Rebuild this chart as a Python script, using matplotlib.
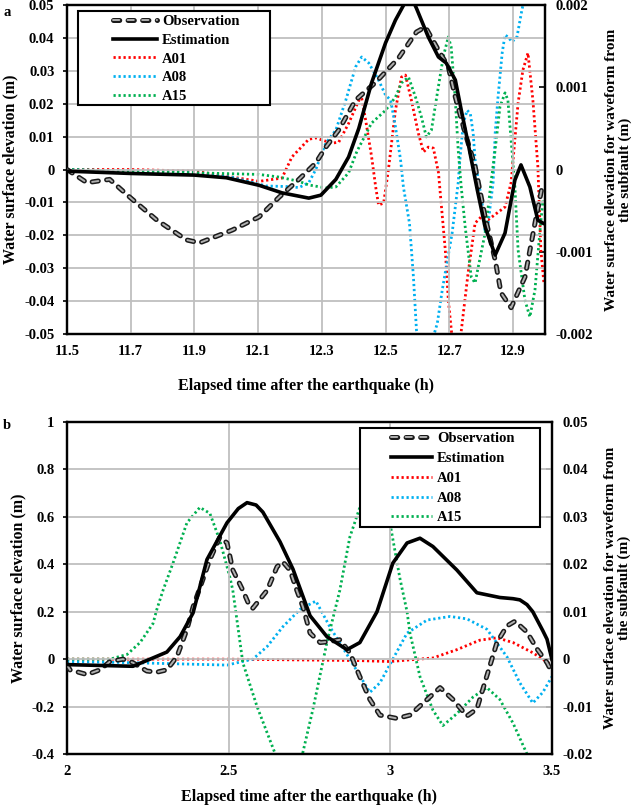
import matplotlib
matplotlib.use("Agg")
import matplotlib.pyplot as plt
import matplotlib.patheffects as pe
from matplotlib.legend_handler import HandlerLine2D
from matplotlib.patches import Rectangle
from matplotlib.ticker import FixedLocator, FuncFormatter

plt.rcParams['font.family'] = ['Liberation Serif', 'DejaVu Serif']
plt.rcParams['font.weight'] = 'bold'
plt.rcParams['lines.scale_dashes'] = False

# ---------------- data: panel a ----------------
obs_a_t = [11.500, 11.5625, 11.634, 11.697, 11.781, 11.875, 11.916, 12.019, 12.103, 12.166,
           12.228, 12.281, 12.3125, 12.353, 12.406, 12.469, 12.541, 12.597, 12.625, 12.666,
           12.697, 12.719, 12.75, 12.781, 12.8125, 12.844, 12.8625, 12.894, 12.9375, 12.969, 12.994]
obs_a = [0.0, -0.004, -0.003, -0.0084, -0.0153, -0.0214, -0.0223, -0.0184, -0.0144, -0.0084,
         -0.003, 0.002, 0.0068, 0.012, 0.0211, 0.0265, 0.0339, 0.0418, 0.0433, 0.0363,
         0.0312, 0.022, 0.011, 0.001, -0.0144, -0.0275, -0.0375, -0.042, -0.0327, -0.0163, -0.004]

est_a_t = [11.5, 11.7, 11.9, 12.0, 12.103, 12.175, 12.259, 12.297, 12.344, 12.384, 12.416,
           12.456, 12.5, 12.531, 12.5625, 12.5875, 12.597, 12.634, 12.666, 12.69, 12.719,
           12.7375, 12.759, 12.7875, 12.8125, 12.844, 12.875, 12.906, 12.925, 12.953, 12.978, 12.994]
est_a = [-0.0005, -0.0012, -0.0017, -0.0025, -0.0048, -0.0071, -0.0087, -0.0078, -0.003, 0.0038, 0.0125,
         0.0263, 0.0385, 0.0454, 0.051, 0.051, 0.049, 0.0403, 0.0342, 0.0324, 0.0272,
         0.0181, 0.008, -0.006, -0.0175, -0.026, -0.0193, -0.0032, 0.0014, -0.0053, -0.0154, -0.0163]

a01_a_t = [11.5, 11.7, 11.9, 12.103, 12.175, 12.206, 12.259, 12.281, 12.331, 12.353, 12.384,
           12.416, 12.425, 12.4375, 12.456, 12.469, 12.478, 12.494, 12.509, 12.531, 12.55,
           12.5625, 12.581, 12.603, 12.619, 12.634, 12.65, 12.666, 12.6875, 12.697, 12.716,
           12.734, 12.759, 12.781, 12.8, 12.822, 12.853, 12.875, 12.894, 12.916, 12.931,
           12.947, 12.9625, 12.978, 12.9875, 12.997]
a01_a = [0.0, 0.0, -0.00002, -0.000144, -0.000104, 0.000152, 0.000368, 0.000384, 0.00032, 0.000332, 0.00056,
         0.00084, 0.000868, 0.0006, 0.00016, -0.000212, -0.000432, -0.000408, 0.0, 0.00072, 0.001124,
         0.001148, 0.000844, 0.00044, 0.000212, 0.000272, 0.00026, -0.000036, -0.00098, -0.001588, -0.00232,
         -0.00208, -0.00126, -0.000652, -0.000576, -0.000612, -0.00052, -0.000456, -0.00016, 0.000808, 0.001208,
         0.001416, 0.00084, 0.00004, -0.00098, -0.00138]

a08_a_t = [11.5, 11.9, 12.019, 12.125, 12.197, 12.228, 12.259, 12.281, 12.3, 12.3125, 12.344,
           12.375, 12.406, 12.425, 12.447, 12.478, 12.5, 12.516, 12.531, 12.547, 12.556,
           12.575, 12.5875, 12.597, 12.62, 12.6375, 12.6625, 12.678, 12.709, 12.728, 12.734,
           12.744, 12.756, 12.766, 12.775, 12.781, 12.803, 12.8125, 12.822, 12.8375, 12.844,
           12.853, 12.866, 12.875, 12.884, 12.897, 12.9125, 12.928, 12.95]
a08_a = [0.0, -0.00004, -0.000096, -0.0002, -0.000208, -0.00022, -0.00016, 0.0, 0.0002, 0.00032, 0.00048,
         0.00084, 0.001248, 0.001368, 0.001296, 0.001088, 0.000904, 0.000844, 0.00052, 0.00012, -0.000212,
         -0.000652, -0.001308, -0.001952, -0.0024, -0.0022, -0.001868, -0.001464, -0.000772, -0.00016, 0.000152,
         0.000564, 0.00072, 0.00068, 0.00044, 0.00012, -0.000408, -0.000772, -0.000652, -0.00016, 0.00044,
         0.00088, 0.001416, 0.001636, 0.001612, 0.001552, 0.001612, 0.00194, 0.00232]

a15_a_t = [11.5, 11.9, 12.103, 12.166, 12.228, 12.259, 12.3125, 12.344, 12.384, 12.41, 12.456,
           12.5, 12.531, 12.55, 12.572, 12.594, 12.6125, 12.628, 12.644, 12.659, 12.681,
           12.697, 12.706, 12.719, 12.728, 12.7375, 12.75, 12.769, 12.781, 12.791, 12.8125,
           12.831, 12.844, 12.859, 12.875, 12.884, 12.894, 12.906, 12.916, 12.9375, 12.953,
           12.969, 12.984, 12.994]
a15_a = [0.0, -0.00004, -0.00006, -0.000092, -0.000144, -0.000188, -0.000224, -0.000212, -0.00004, 0.00022, 0.000564,
         0.00072, 0.00088, 0.001052, 0.001124, 0.00088, 0.00064, 0.000396, 0.00048, 0.000844, 0.001368,
         0.001612, 0.001488, 0.000844, 0.000236, -0.000212, -0.0007, -0.001308, -0.00138, -0.001184, -0.000772,
         -0.00016, 0.00024, 0.00076, 0.000932, 0.000844, 0.00036, -0.000212, -0.00098, -0.001588, -0.001792,
         -0.001464, -0.000772, -0.000372]

# ---------------- data: panel b ----------------
obs_b_t = [2.0, 2.009, 2.062, 2.102, 2.133, 2.173, 2.204, 2.247, 2.278, 2.309, 2.340, 2.371, 2.390,
           2.411, 2.442, 2.473, 2.495, 2.513, 2.544, 2.566, 2.575, 2.619, 2.650, 2.668, 2.690,
           2.711, 2.730, 2.752, 2.783, 2.813, 2.844, 2.875, 2.906, 2.937, 2.968, 3.021, 3.061,
           3.114, 3.154, 3.194, 3.237, 3.268, 3.299, 3.330, 3.361, 3.386, 3.423, 3.454, 3.485, 3.5]
obs_b = [-0.023, -0.045, -0.065, -0.045, -0.01, 0.0, -0.015, -0.05, -0.055, -0.045, 0.01, 0.125, 0.22,
         0.30, 0.42, 0.515, 0.49, 0.376, 0.29, 0.22, 0.215, 0.29, 0.39, 0.41, 0.375,
         0.29, 0.22, 0.11, 0.07, 0.074, 0.082, 0.027, -0.074, -0.17, -0.236, -0.25, -0.236,
         -0.17, -0.12, -0.17, -0.24, -0.21, -0.07, 0.07, 0.14, 0.16, 0.114, 0.043, -0.015, -0.055]

est_b_t = [2.0, 2.204, 2.257, 2.309, 2.350, 2.390, 2.433, 2.495, 2.53, 2.557, 2.585, 2.606, 2.659, 2.699,
           2.752, 2.804, 2.866, 2.906, 2.959, 3.008, 3.052, 3.092, 3.132, 3.206, 3.268, 3.339,
           3.380, 3.401, 3.423, 3.441, 3.472, 3.485, 3.5]
est_b = [-0.023, -0.03, 0.0, 0.03, 0.095, 0.195, 0.42, 0.575, 0.635, 0.66, 0.65, 0.62, 0.495, 0.38,
         0.183, 0.095, 0.04, 0.07, 0.2, 0.405, 0.49, 0.51, 0.475, 0.376, 0.28, 0.26,
         0.255, 0.25, 0.23, 0.2, 0.12, 0.084, 0.0]

a01_b_t = [2.0, 2.5, 2.9, 3.0, 3.132, 3.206, 3.277, 3.330, 3.380, 3.441, 3.494, 3.5]
a01_b = [0.0, 0.0, -0.0003, -0.0005, 0.00025, 0.002, 0.004, 0.0045, 0.0035, 0.00135, -0.001, -0.0012]

a08_b_t = [2.0, 2.204, 2.495, 2.575, 2.619, 2.668, 2.721, 2.77, 2.813, 2.875, 2.937, 2.968,
           3.008, 3.052, 3.114, 3.185, 3.237, 3.299, 3.361, 3.401, 3.441, 3.472, 3.5]
a08_b = [-0.0005, -0.00075, -0.00125, 0.0, 0.00265, 0.00685, 0.0105, 0.01225, 0.00685, 0.0, -0.007, -0.005,
         0.0, 0.0055, 0.00825, 0.009, 0.0085, 0.0063, 0.0005, -0.005, -0.00925, -0.007, -0.0037]

a15_b_t = [2.0, 2.133, 2.186, 2.226, 2.266, 2.278, 2.297, 2.328, 2.371, 2.411, 2.442, 2.473, 2.504,
           2.513, 2.544, 2.588, 2.619, 2.65, 2.68, 2.72, 2.761, 2.804, 2.844, 2.875, 2.906, 2.95,
           2.999, 3.030, 3.052, 3.061, 3.092, 3.132, 3.163, 3.206, 3.256, 3.299, 3.339, 3.380,
           3.423, 3.47, 3.5]
a15_b = [0.0, 0.0, 0.001, 0.0035, 0.0075, 0.0105, 0.0145, 0.02025, 0.02875, 0.032, 0.03075, 0.025, 0.01725,
         0.0145, -0.00075, -0.01, -0.0155, -0.021, -0.024, -0.0225, -0.0105, 0.0035, 0.0145, 0.02575, 0.032, 0.036,
         0.02875, 0.017, 0.01, 0.0055, -0.0037, -0.01075, -0.014, -0.0115, -0.008, -0.006, -0.0085, -0.0135,
         -0.02, -0.026, -0.03]

labels = ["Observation", "Estimation", "A01", "A08", "A15"]
xticks_a = [11.5, 11.7, 11.9, 12.1, 12.3, 12.5, 12.7, 12.9]
yticks_a = [-0.05, -0.04, -0.03, -0.02, -0.01, 0, 0.01, 0.02, 0.03, 0.04, 0.05]
y2ticks_a = [-0.002, -0.001, 0, 0.001, 0.002]
xticks_b = [2, 2.5, 3, 3.5]
yticks_b = [-0.4, -0.2, 0, 0.2, 0.4, 0.6, 0.8, 1]
y2ticks_b = [-0.02, -0.01, 0, 0.01, 0.02, 0.03, 0.04, 0.05]

C_RED = '#ff0000'
C_BLUE = '#00b0f0'
C_GREEN = '#00b050'
GRID = '#bfbfbf'
FS = 10.5
W, H = 638.0, 806.0


def fmt(v, pos=None):
    r = round(v, 6)
    if abs(r) < 1e-12:
        return "0"
    return ("%.6f" % r).rstrip('0').rstrip('.')


class PadHandler(HandlerLine2D):
    def __init__(self, frac, **kw):
        super().__init__(**kw)
        self.frac = frac

    def create_artists(self, legend, orig_handle, xdescent, ydescent, width, height, fontsize, trans):
        pad = width * self.frac
        return super().create_artists(legend, orig_handle, xdescent - pad, ydescent,
                                      width - pad, height, fontsize, trans)


def obs_line(ax, t, v):
    ln, = ax.plot(t, v, color='#b0b0b0', lw=1.4, dashes=(4.5, 6.0), dash_capstyle='round',
                  solid_capstyle='round', zorder=3,
                  path_effects=[pe.Stroke(linewidth=3.6, foreground='#1a1a1a'), pe.Normal()])
    return ln


def panel(ax, xlim, ylim, y2lim, xticks, yticks, y2ticks, data, leg_anchor_px, box_px,
          handle_frac, labelspacing, xlabelpad):
    (ot, ov, et, ev, a1t, a1, a8t, a8, a15t, a15) = data
    ax2 = ax.twinx()
    dot = dict(lw=2.0, dashes=(1.6, 2.0), zorder=2)
    l3, = ax2.plot(a1t, a1, color=C_RED, **dot)
    l4, = ax2.plot(a8t, a8, color=C_BLUE, **dot)
    l5, = ax2.plot(a15t, a15, color=C_GREEN, **dot)
    l1 = obs_line(ax, ot, ov)
    l2, = ax.plot(et, ev, color='black', lw=2.6, zorder=4, solid_joinstyle='round')

    ax.set_zorder(ax2.get_zorder() + 1)
    ax.patch.set_visible(False)

    ax.set_xlim(*xlim)
    ax.set_ylim(*ylim)
    ax2.set_ylim(*y2lim)
    ax.xaxis.set_major_locator(FixedLocator(xticks))
    ax.yaxis.set_major_locator(FixedLocator(yticks))
    ax2.yaxis.set_major_locator(FixedLocator(y2ticks))
    ax.xaxis.set_major_formatter(FuncFormatter(fmt))
    ax.yaxis.set_major_formatter(FuncFormatter(fmt))
    ax2.yaxis.set_major_formatter(FuncFormatter(fmt))
    ax.grid(True, color=GRID, lw=1.3, zorder=0)
    ax.set_axisbelow(True)
    ax.tick_params(axis='x', length=0, pad=8, labelsize=FS)
    ax.tick_params(axis='y', length=3, width=1.2, direction='out', pad=6, labelsize=FS)
    ax2.tick_params(axis='y', length=4, width=1.2, direction='in', pad=8, labelsize=FS)
    for a in (ax, ax2):
        for s in a.spines.values():
            s.set_linewidth(1.6)
            s.set_color('black')
    ax.set_xlabel("Elapsed time after the earthquake (h)", fontsize=11.5, fontweight='bold',
                  labelpad=xlabelpad)
    ax.set_ylabel("Water surface elevation (m)", fontsize=11.5, fontweight='bold', labelpad=4)
    ax2.set_ylabel("Water surface elevation for waveform from\nthe subfault (m)", fontsize=11,
                   fontweight='bold', labelpad=8, multialignment='center', linespacing=1.05)

    # legend frame drawn as a box at the reference position
    bx0, by0, bx1, by1 = box_px
    rect = Rectangle((bx0 / W, 1 - by1 / H), (bx1 - bx0) / W, (by1 - by0) / H,
                     transform=fig.transFigure, facecolor='white', edgecolor='black', lw=1.5,
                     zorder=9, clip_on=False)
    ax.add_patch(rect)

    hm = {h: PadHandler(handle_frac) for h in (l1, l2, l3, l4, l5)}
    leg = ax.legend([l1, l2, l3, l4, l5], labels, loc='upper left',
                    bbox_to_anchor=(leg_anchor_px[0] / W, 1 - leg_anchor_px[1] / H),
                    bbox_transform=fig.transFigure,
                    borderaxespad=0, frameon=False,
                    prop={'family': 'Liberation Serif', 'weight': 'bold', 'size': FS},
                    handlelength=5.2, handletextpad=0.35, labelspacing=labelspacing, borderpad=0.35,
                    handler_map=hm)
    leg.set_zorder(10)
    return ax2


fig = plt.figure(figsize=(6.38, 8.06), dpi=100)
axa = fig.add_axes([0.105, 0.5856, 0.749, 0.4082])
axb = fig.add_axes([0.105, 0.0645, 0.760, 0.4119])

panel(axa, (11.5, 13.0), (-0.05, 0.05), (-0.002, 0.002), xticks_a, yticks_a, y2ticks_a,
      (obs_a_t, obs_a, est_a_t, est_a, a01_a_t, a01_a, a08_a_t, a08_a, a15_a_t, a15_a),
      (76, 10), (78, 11, 270, 105), 0.42, 0.37, 14)
panel(axb, (2.0, 3.5), (-0.4, 1.0), (-0.02, 0.05), xticks_b, yticks_b, y2ticks_b,
      (obs_b_t, obs_b, est_b_t, est_b, a01_b_t, a01_b, a08_b_t, a08_b, a15_b_t, a15_b),
      (351, 427), (360, 428, 540, 527), 0.46, 0.45, 8)

fig.text(0.005, 0.993, "a", fontsize=10.5, fontweight='bold', va='top', ha='left')
fig.text(0.005, 0.480, "b", fontsize=10.5, fontweight='bold', va='top', ha='left')

fig.savefig("out.png", dpi=100)
